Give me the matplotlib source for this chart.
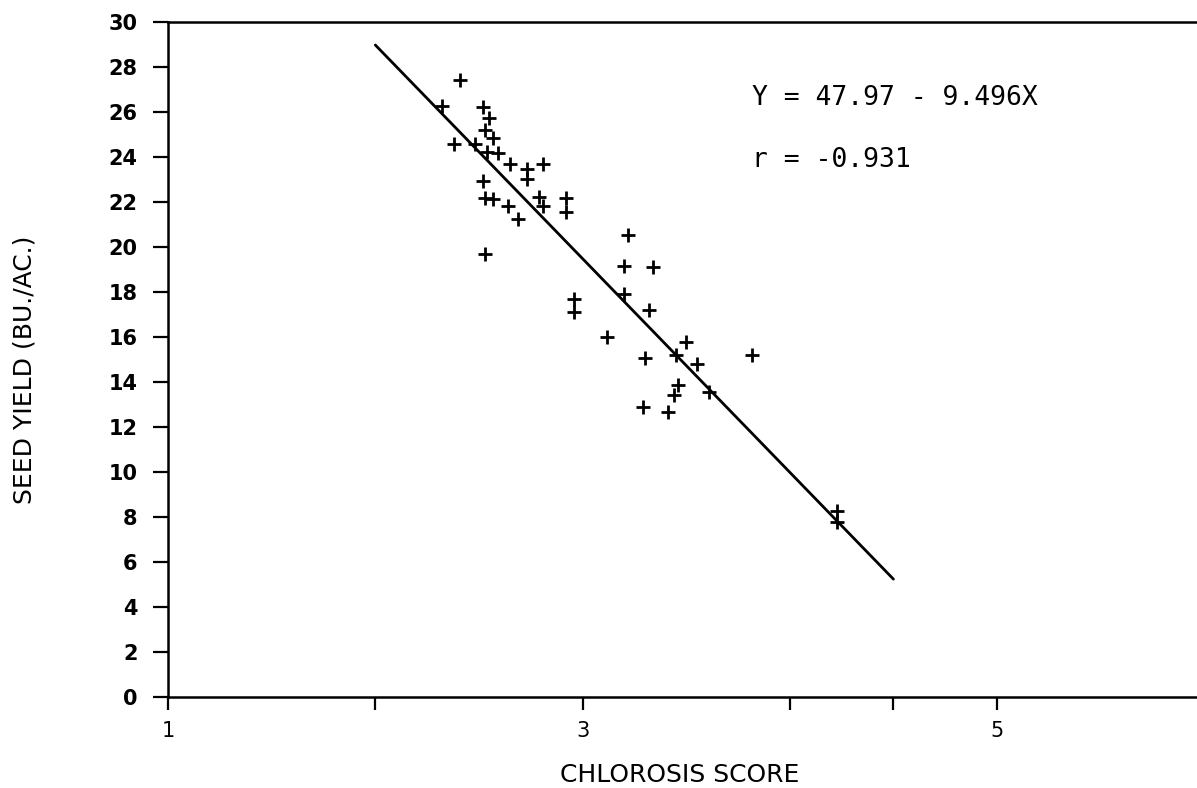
import matplotlib
matplotlib.use("Agg")
import matplotlib.pyplot as plt
import numpy as np

# Chlorosis score (x) and seed yield (y)
chlorosis = [2.41, 2.32, 2.52, 2.55, 2.53, 2.57, 2.38, 2.48, 2.54, 2.59,
             2.65, 2.73, 2.81, 2.73, 2.52, 2.79, 2.53, 2.57, 2.92, 2.92,
             2.64, 2.81, 2.69, 2.53, 3.22, 3.20, 3.34, 2.96, 2.96, 3.20,
             3.32, 3.12, 3.50, 3.30, 3.45, 3.55, 3.82, 3.46, 3.44, 3.61,
             3.29, 3.41, 4.23, 4.23]
yield_bu = [27.43, 26.28, 26.23, 25.74, 25.21, 24.86, 24.59, 24.59, 24.23, 24.19,
            23.70, 23.48, 23.70, 23.04, 22.95, 22.24, 22.19, 22.15, 22.19, 21.57,
            21.84, 21.84, 21.26, 19.71, 20.55, 19.17, 19.09, 17.67, 17.13, 17.93,
            17.22, 16.02, 15.76, 15.05, 15.22, 14.78, 15.18, 13.85, 13.40, 13.54,
            12.87, 12.65, 8.26, 7.77]

intercept = 47.97
slope = -9.496
line_x = [2.0, 4.5]

x_ticks = [1, 2, 3, 4, 4.5, 5]
x_tick_labels = ["1", "", "3", "", "", "5"]
y_ticks = list(range(0, 31, 2))

fig = plt.figure(figsize=(11.97, 7.88), dpi=100)
ax = fig.add_axes([0.1404, 0.1155, 0.8657, 0.8566])

lx = np.array(line_x)
ax.plot(lx, intercept + slope * lx, color="black", lw=2.0, solid_capstyle="round")
ax.plot(chlorosis, yield_bu, linestyle="none", marker="+", color="black",
        markersize=10, markeredgewidth=2.0)

ax.set_xlim(1, 6)
ax.set_ylim(0, 30)
ax.set_xticks(x_ticks)
ax.set_xticklabels(x_tick_labels)
ax.set_yticks(y_ticks)
ax.set_yticklabels([str(v) for v in y_ticks])

for s in ["left", "bottom", "top"]:
    ax.spines[s].set_linewidth(1.8)
ax.spines["right"].set_visible(False)

ax.tick_params(axis="y", direction="out", length=11, width=1.6, pad=11,
               labelsize=15)
ax.tick_params(axis="x", direction="out", length=9, width=1.6, pad=8,
               labelsize=15)
for lab in ax.get_yticklabels():
    lab.set_fontweight("bold")
    lab.set_family("DejaVu Sans")
for lab in ax.get_xticklabels():
    lab.set_family("DejaVu Sans")

fig.text(680 / 1197, 1 - 775 / 788, "CHLOROSIS SCORE", fontsize=18,
         family="DejaVu Sans", ha="center", va="center")
fig.text(25 / 1197, 1 - 370 / 788, "SEED YIELD (BU./AC.)", fontsize=18,
         family="DejaVu Sans", ha="center", va="center", rotation=90)

ax.text(0.5633, 0.887, "Y = 47.97 - 9.496X", transform=ax.transAxes,
        fontsize=19, family="DejaVu Sans Mono", va="center", ha="left")
ax.text(0.5633, 0.795, "r = -0.931", transform=ax.transAxes,
        fontsize=19, family="DejaVu Sans Mono", va="center", ha="left")

fig.savefig("out.png", dpi=100)
